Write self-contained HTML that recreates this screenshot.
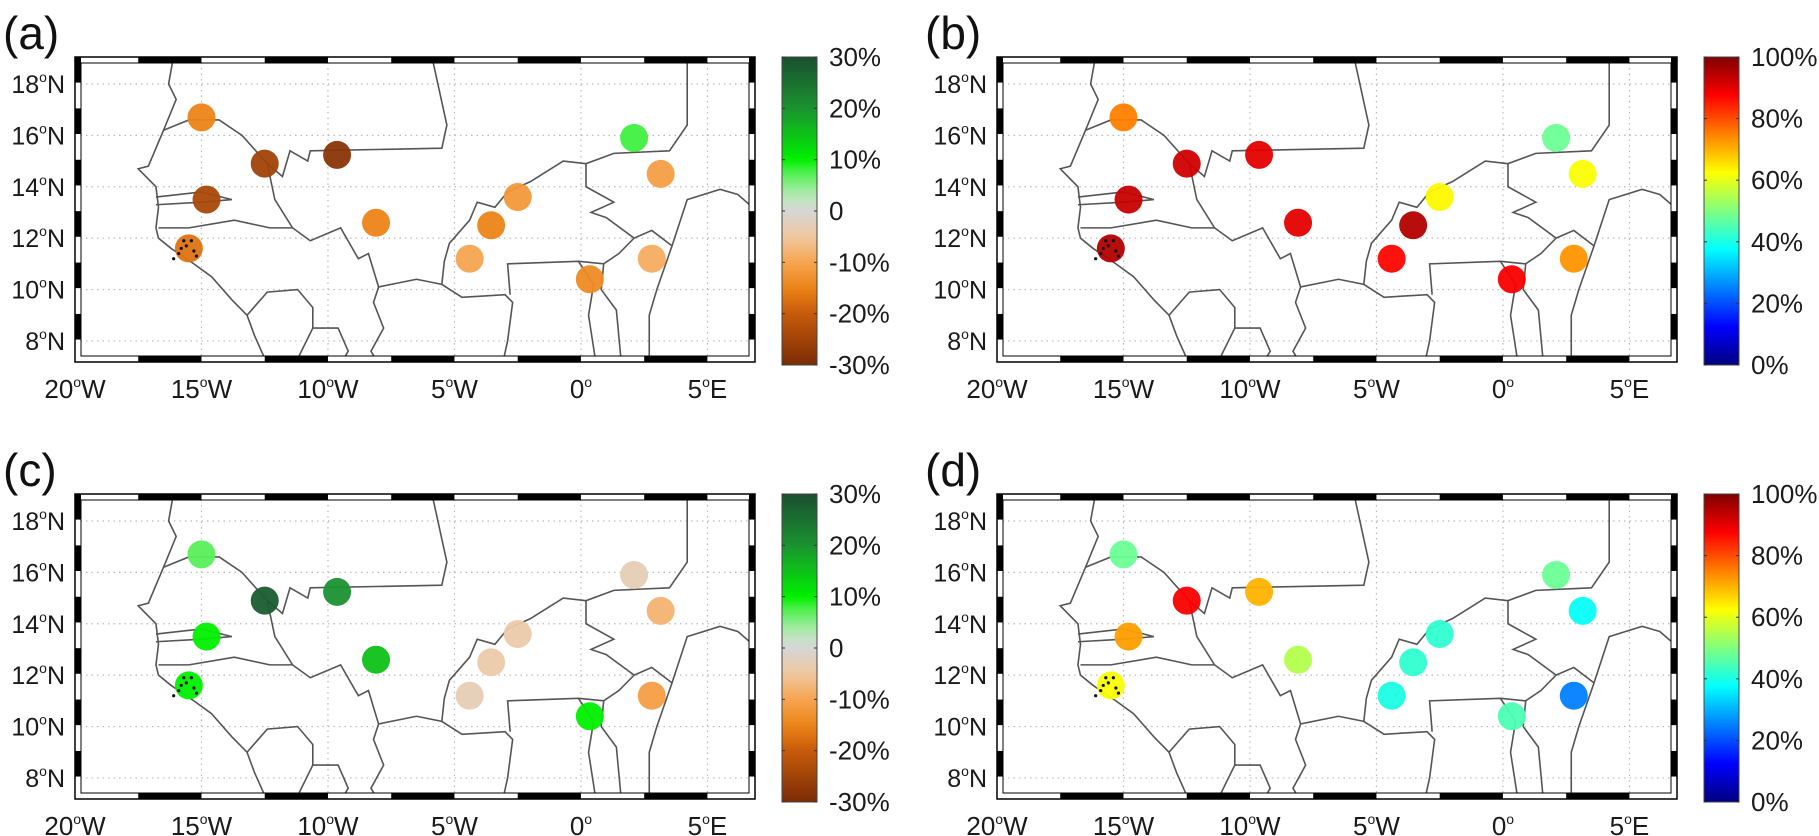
<!DOCTYPE html>
<html><head><meta charset="utf-8">
<style>
html,body{margin:0;padding:0;background:#fff;}
svg{display:block;font-family:"Liberation Sans",Arial,sans-serif;}
</style></head>
<body>
<svg id="fig" width="1819" height="836" viewBox="0 0 1819 836" xmlns="http://www.w3.org/2000/svg"></svg>
<script>
// ---- data ----
const stationLon = [-15.0,-12.5,-9.64,-14.8,-15.5,-8.1,-4.4,-3.55,-2.5,2.1,3.15,0.35,2.8];
const stationLat = [16.7,14.9,15.24,13.5,11.6,12.6,11.2,12.5,13.6,15.9,14.5,10.4,11.2];
const valuesA = [-15,-25,-28,-24,-17,-15,-10,-15,-12,8,-11,-14,-9];
const valuesB = [75,92,90,93,95,90,87,95,63,48,62,88,73];
const valuesC = [7,28,20,10,10,15,-3,-4,-4,-3,-8,10,-11];
const valuesD = [48,88,70,72,62,55,40,42,42,48,38,45,25];
const latTicks = [8,10,12,14,16,18];
const lonTicks = [-20,-15,-10,-5,0,5];
const lonTickLabels = ["20","15","10","5","0","5"];
const lonTickSuffix = ["W","W","W","W","","E"];
const divTicks = [30,20,10,0,-10,-20,-30];
const divTickLabels = ["30%","20%","10%","0","-10%","-20%","-30%"];
const seqTicks = [100,80,60,40,20,0];
const seqTickLabels = ["100%","80%","60%","40%","20%","0%"];

const borders = [
 [[-16.1,19.1],[-16.3,18],[-16.0,17.4],[-16.5,16.2],[-17.1,14.8],[-17.5,14.7],[-16.8,14.0],[-16.7,13.2],[-16.8,12.4],[-16.7,12.0],[-16.2,11.6],[-15.3,11.0],[-14.6,10.5],[-13.8,9.6],[-13.2,9.0],[-12.9,8.2],[-12.4,7.1]],
 [[-16.5,16.2],[-15.5,16.6],[-14.3,16.6],[-13.4,16.0],[-12.4,14.9],[-11.8,14.4],[-11.5,15.4],[-10.8,15.0],[-10.7,15.4],[-5.5,15.5],[-5.3,16.4],[-5.9,19.1]],
 [[-16.8,13.6],[-15.0,13.8],[-13.8,13.5],[-15.0,13.4],[-16.8,13.3]],
 [[-16.7,12.4],[-15.5,12.4],[-13.7,12.7],[-12.3,12.4],[-11.4,12.4]],
 [[-12.4,14.9],[-12.1,13.5],[-11.4,12.4],[-10.7,11.9],[-9.5,12.4],[-8.8,11.2],[-8.4,11.4],[-8.0,10.1],[-8.2,9.5],[-7.8,8.5],[-8.3,7.6],[-8.0,7.1]],
 [[-13.2,9.0],[-12.4,9.9],[-11.2,10.0],[-10.6,9.3],[-10.6,8.5],[-11.3,7.1]],
 [[-10.6,8.5],[-9.6,8.5],[-9.2,7.6],[-9.5,7.1]],
 [[-8.0,10.1],[-6.5,10.4],[-5.5,10.2],[-4.7,9.7],[-3.0,9.8],[-2.7,9.5],[-2.9,8.0],[-3.1,7.1]],
 [[-5.5,10.2],[-5.4,11.1],[-5.2,11.8],[-4.4,12.7],[-4.1,13.4],[-3.4,13.2],[-2.9,13.8],[-2.0,14.2],[-0.7,15.0],[0.2,14.9],[1.3,15.3],[3.5,15.4],[4.2,16.4],[4.2,19.1]],
 [[0.2,14.9],[0.2,14.0],[1.3,13.4],[0.4,13.0],[1.0,12.8],[2.1,12.0],[1.5,11.4],[0.9,11.0],[-0.1,11.1],[-2.9,11.0],[-2.8,9.8]],
 [[-0.1,11.1],[0.5,10.2],[0.3,9.0],[0.6,7.1]],
 [[0.9,11.0],[0.8,10.0],[1.4,9.2],[1.6,7.1]],
 [[2.1,12.0],[2.8,12.3],[3.6,11.7],[3.0,10.0],[2.7,9.0],[2.7,7.1]],
 [[3.6,11.7],[4.2,13.5],[5.5,13.9],[6.2,13.7],[6.9,13.1]]
];

const NS="http://www.w3.org/2000/svg";
const svg=document.getElementById('fig');
function mk(tag,attrs,parent){const e=document.createElementNS(NS,tag);for(const k in attrs)e.setAttribute(k,attrs[k]);(parent||svg).appendChild(e);return e;}

function lerp(a,b,t){return a+(b-a)*t;}
function hex(c){return [parseInt(c.substr(1,2),16),parseInt(c.substr(3,2),16),parseInt(c.substr(5,2),16)];}
const divStops=[[-30,"#7a2c06"],[-20,"#c85a0a"],[-15,"#ec8418"],[-10,"#f6a550"],[-5,"#f0c8a0"],[0,"#d6d6d6"],[3,"#b8eab8"],[8,"#40f040"],[10,"#00f000"],[20,"#1a9230"],[30,"#1a4f30"]];
function divColor(v){
 for(let i=0;i<divStops.length-1;i++){const a=divStops[i],b=divStops[i+1];
  if(v<=b[0]||i===divStops.length-2){const t=Math.max(0,Math.min(1,(v-a[0])/(b[0]-a[0])));const ca=hex(a[1]),cb=hex(b[1]);
   return `rgb(${Math.round(lerp(ca[0],cb[0],t))},${Math.round(lerp(ca[1],cb[1],t))},${Math.round(lerp(ca[2],cb[2],t))})`;}}
}
function jet(v){const x=v/100;const r=Math.min(1,Math.max(0,1.5-Math.abs(4*x-3)));const g=Math.min(1,Math.max(0,1.5-Math.abs(4*x-2)));const b=Math.min(1,Math.max(0,1.5-Math.abs(4*x-1)));
 return `rgb(${Math.round(r*255)},${Math.round(g*255)},${Math.round(b*255)})`;}

const defs=mk('defs',{});
const gd=mk('linearGradient',{id:'gdiv',x1:0,y1:0,x2:0,y2:1},defs);
for(let i=0;i<=30;i++){const v=30-i*2;mk('stop',{offset:(i/30),'stop-color':divColor(v)},gd);}
const gj=mk('linearGradient',{id:'gjet',x1:0,y1:0,x2:0,y2:1},defs);
for(let i=0;i<=40;i++){const v=100-i*2.5;mk('stop',{offset:(i/40),'stop-color':jet(v)},gj);}

const LON0=-20,LON1=6.88,LAT0=7.18,LAT1=19.05;
function panel(name,label,x0,y0,vals,kind){
 const W=680,H=305;
 const g=mk('g',{});
 
 
 const xs=lon=>x0+(lon-LON0)/(LON1-LON0)*W;
 const ys=lat=>y0+(LAT1-lat)/(LAT1-LAT0)*H;
 const pl=mk('text',{x:x0-72,y:y0-8,'font-size':46,fill:'#111'},g);
 pl.textContent='('+label+')';
 
 
 mk('rect',{x:x0,y:y0,width:W,height:H,fill:'#fff'},g);
 lonTicks.forEach(l=>{if(l>LON0){const gl=mk('line',{x1:xs(l),x2:xs(l),y1:y0,y2:y0+H,stroke:'#bbb','stroke-dasharray':'1.5,4','stroke-width':1.2},g);
  }});
 latTicks.forEach(l=>{const gl=mk('line',{x1:x0,x2:x0+W,y1:ys(l),y2:ys(l),stroke:'#bbb','stroke-dasharray':'1.5,4','stroke-width':1.2},g);
  });
 const cp='clip'+name;const cl=mk('clipPath',{id:cp},defs);mk('rect',{x:x0+6,y:y0+6,width:W-12,height:H-12},cl);
 const bg=mk('g',{'clip-path':`url(#${cp})`},g);
 borders.forEach(b=>{const p=mk('polyline',{points:b.map(q=>xs(q[0])+','+ys(q[1])).join(' '),fill:'none',stroke:'#555','stroke-width':1.6},bg);
  });
 vals.forEach((v,i)=>{const c=mk('circle',{cx:xs(stationLon[i]),cy:ys(stationLat[i]),r:14,fill:kind==='div'?divColor(v):jet(v),'fill-opacity':0.95},bg);
  });
 [[-15.9,11.4],[-16.1,11.2],[-15.7,11.9],[-15.3,11.5],[-15.6,11.7],[-15.4,11.9],[-15.8,11.6],[-15.2,11.3]].forEach(q=>mk('circle',{cx:xs(q[0]),cy:ys(q[1]),r:1.6,fill:'#111'},bg));
 const T=6;
 const fr=mk('g',{},g);
 for(let k=0;k<11;k++){const a=LON0+k*2.5,b=Math.min(LON1,a+2.5);if(a>=LON1)break;
  const col=k%2?'#000':'#fff';
  mk('rect',{x:xs(a),y:y0,width:xs(b)-xs(a),height:T,fill:col},fr);
  mk('rect',{x:xs(a),y:y0+H-T,width:xs(b)-xs(a),height:T,fill:col},fr);}
 for(let k=0;k<13;k++){const a=LAT1-k,b=Math.max(LAT0,a-1);if(a<=LAT0)break;
  const col=k%2?'#fff':'#000';
  mk('rect',{x:x0,y:ys(a),width:T,height:ys(b)-ys(a),fill:col},fr);
  mk('rect',{x:x0+W-T,y:ys(a),width:T,height:ys(b)-ys(a),fill:col},fr);}
 mk('rect',{x:x0,y:y0,width:W,height:H,fill:'none',stroke:'#000','stroke-width':1.5},fr);
 mk('rect',{x:x0+T,y:y0+T,width:W-2*T,height:H-2*T,fill:'none',stroke:'#000','stroke-width':1},fr);
 latTicks.forEach(l=>{const t=mk('text',{x:x0-10,y:ys(l)+9,'font-size':25,'text-anchor':'end',fill:'#1a1a1a'},g);
  t.innerHTML=l+'<tspan font-size="14" dy="-11">o</tspan><tspan dy="11">N</tspan>';
  });
 lonTicks.forEach((l,i)=>{const t=mk('text',{x:xs(l),y:y0+H+36,'font-size':26,'text-anchor':'middle',fill:'#1a1a1a'},g);
  t.innerHTML=lonTickLabels[i]+'<tspan font-size="14" dy="-11">o</tspan><tspan dy="11">'+lonTickSuffix[i]+'</tspan>';
  });
 const cx=x0+W+27,cw=35;
 const cb=mk('rect',{x:cx,y:y0,width:cw,height:H+3,fill:kind==='div'?'url(#gdiv)':'url(#gjet)',stroke:'#444','stroke-width':1},g);
 
 const ticks=kind==='div'?divTicks:seqTicks, labs=kind==='div'?divTickLabels:seqTickLabels;
 const vmin=kind==='div'?-30:0,vmax=kind==='div'?30:100;
 ticks.forEach((v,i)=>{const yy=y0+(vmax-v)/(vmax-vmin)*(H+3);
  mk('line',{x1:cx,x2:cx+3,y1:yy,y2:yy,stroke:'#333'},g);mk('line',{x1:cx+cw-3,x2:cx+cw,y1:yy,y2:yy,stroke:'#333'},g);
  const t=mk('text',{x:cx+cw+12,y:yy+9,'font-size':26,fill:'#1a1a1a'},g);t.textContent=labs[i];
  });
}
panel('a','a',75,57,valuesA,'div');
panel('b','b',997,57,valuesB,'seq');
panel('c','c',75,494,valuesC,'div');
panel('d','d',997,494,valuesD,'seq');
</script>
</body></html>
